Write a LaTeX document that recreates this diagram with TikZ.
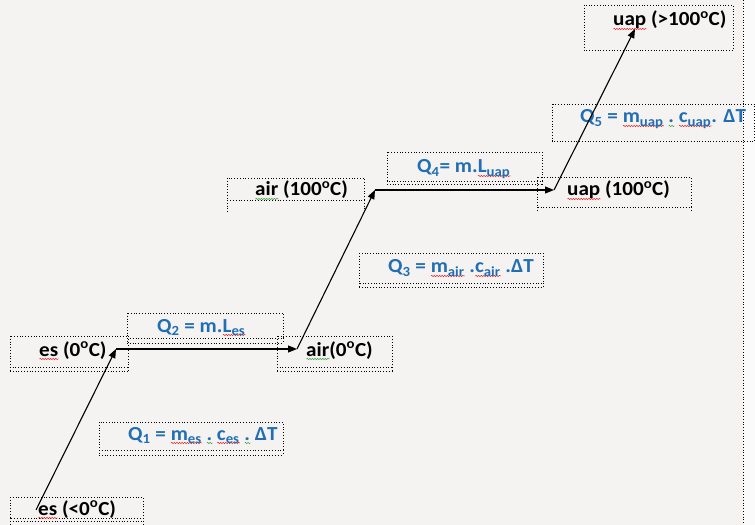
\documentclass[tikz,border=0pt]{standalone}
\usepackage{fontspec}
\setmainfont{Carlito}[FakeStretch=1.06]
\usetikzlibrary{arrows.meta,decorations.pathmorphing}
\definecolor{qblue}{RGB}{34,110,180}
\definecolor{bgc}{RGB}{244,243,242}
\definecolor{sqred}{RGB}{225,40,40}
\definecolor{sqgreen}{RGB}{60,160,60}
\newsavebox\sqbox
\newlength\sqlen
\newcommand\sq[2][sqred]{\sbox\sqbox{#2}\setlength\sqlen{\wd\sqbox}%
  \rlap{\raisebox{-3pt}[0pt][0pt]{\tikz[x=1pt,y=1pt,baseline=0pt]\draw[#1,line width=0.5pt,decorate,decoration={snake,segment length=2.6pt,amplitude=0.7pt}] (0,0) -- (\sqlen,0);}}%
  \usebox\sqbox}
\newcommand\degsym{\textsuperscript{o}}
\tikzset{
  lbl/.style={anchor=base west, inner sep=0pt, font=\fontsize{20}{22}\selectfont\bfseries, text=black},
  qlbl/.style={lbl, text=qblue},
  dots/.style={line width=0.8bp, dotted, black},
  arr/.style={-{Triangle[length=9bp,width=7bp]}, line width=1.1bp, black},
}
\newcommand\wbox[5]{\draw[dots] (#1,#2) rectangle (#3,#4);
  \draw[dots] (#1,#4) -- (#1,#5) (#3,#4) -- (#3,#5);}
\newcommand\wboxx[5]{\wbox{#1}{#2}{#3}{#4}{#5}\draw[dots] (#1,#5) -- (#3,#5);}
\begin{document}
\begin{tikzpicture}[x=1bp,y=-1bp]
\useasboundingbox (0,0) rectangle (755,525);
\fill[bgc] (0,0) rectangle (755,525);
\fill[bgc!40!white] (743,0) rectangle (755,525);
% boxes
\wboxx{10}{497}{143}{518}{521}
\draw[dots] (10,521) -- (10,525) (143,521) -- (143,525);
\wboxx{10}{336}{128}{367}{371}
\wboxx{277}{336}{392}{367}{371}
\wboxx{127}{313}{283}{338}{343}
\wboxx{99}{422}{283}{450}{455}
\wbox{227}{178}{364}{200}{212}
\wboxx{387}{152}{542}{181}{184}
\wbox{537}{177}{691}{207}{212}
\wboxx{359}{253}{543}{283}{287}
\draw[dots] (552,104) rectangle (754.5,141);
\draw[dots] (584,5) rectangle (733,50);
\draw[dots] (743,0) -- (743,525);
% labels
\node[lbl] (t0) at (38,515) {\sq{es} (<0\degsym C)};
\node[lbl] (t1) at (39,356) {\sq{es} (0\degsym C)};
\node[lbl] (t2) at (306,356) {\sq[sqgreen]{air}(0\degsym C)};
\node[lbl] (t3) at (255,196) {\sq[sqgreen]{air} (100\degsym C)};
\node[lbl] (t4) at (567,196) {\sq{uap} (100\degsym C)};
\node[lbl] (t5) at (613,26) {\sq{uap} (>100\degsym C)};
\node[qlbl] (q1) at (128,440) {Q\textsubscript{1} = \sq{m\textsubscript{es}} \sq[sqgreen]{.} \sq{c\textsubscript{es}} \sq[sqgreen]{.} ΔT};
\node[qlbl] (q2) at (157,332) {Q\textsubscript{2} = m.\sq{L\textsubscript{es}}};
\node[qlbl] (q3) at (388,273) {Q\textsubscript{3} = \sq{m\textsubscript{air}} .\sq{c\textsubscript{air}} .ΔT};
\node[qlbl] (q4) at (417,173) {Q\textsubscript{4}= m.\sq{L\textsubscript{uap}}};
\node[qlbl] (q5) at (580,123) {Q\textsubscript{5} = \sq{m\textsubscript{uap}} \sq[sqgreen]{.} \sq{c\textsubscript{uap}}. ΔT};
% path points
\coordinate (p0) at (36,510);
\coordinate (p1) at (116,349);
\coordinate (p2) at (297,349);
\coordinate (p3) at (375,190);
\coordinate (p4) at (554,190);
\coordinate (p5) at (635,29);
\draw[arr] (p0) -- (p1);
\draw[arr] (p1) -- (p2);
\draw[arr] (p2) -- (p3);
\draw[arr] (p3) -- (p4);
\draw[arr] (p4) -- (p5);
\end{tikzpicture}
\end{document}
